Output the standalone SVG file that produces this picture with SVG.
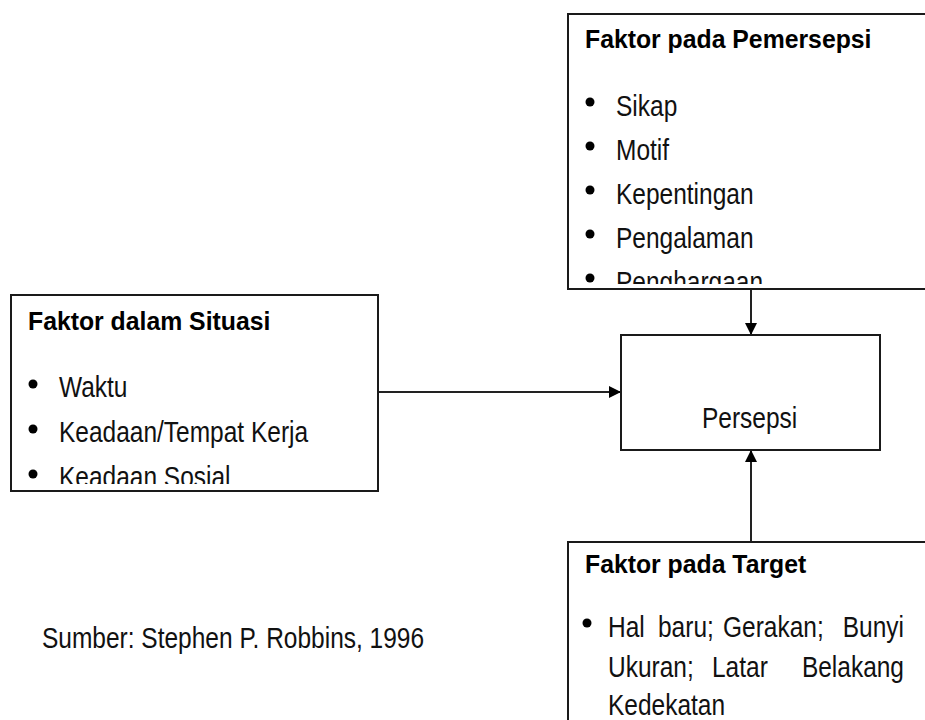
<svg xmlns="http://www.w3.org/2000/svg" width="925" height="720" viewBox="0 0 925 720">
<style>
.box{fill:#fff;stroke:#1a1a1a;stroke-width:2}
.h{font-family:"Liberation Sans",Arial,sans-serif;font-weight:bold;font-size:24.8px;fill:#000}
.t{font-family:"Liberation Sans",Arial,sans-serif;font-size:24.5px;fill:#111}
.b{fill:#000}
.c{stroke:#222;stroke-width:2;fill:none}
</style>
<defs>
<marker id="ah" viewBox="0 0 12 12" refX="12" refY="6" markerWidth="12" markerHeight="12" markerUnits="userSpaceOnUse" orient="auto">
<path d="M0,0 L12,6 L0,12 Z" fill="#000"/>
</marker>
<clipPath id="clipTop"><rect x="569" y="14" width="360" height="270"/></clipPath>
<clipPath id="clipLeft"><rect x="12" y="296" width="365" height="188"/></clipPath>
</defs>
<rect width="925" height="720" fill="#fff"/>
<g id="connectors">
<line class="c" x1="378" y1="392" x2="621" y2="392" marker-end="url(#ah)"/>
<line class="c" x1="751" y1="290" x2="751" y2="335" marker-end="url(#ah)"/>
<line class="c" x1="751" y1="542" x2="751" y2="450" marker-end="url(#ah)"/>
</g>
<g id="pemersepsi">
<rect class="box" x="568" y="14" width="370" height="275"/>
<text class="h" transform="translate(585,48) scale(1,1.05)">Faktor pada Pemersepsi</text>
<g clip-path="url(#clipTop)">
<circle class="b" cx="590" cy="102" r="4.5"/>
<text class="t" transform="translate(616,116) scale(1,1.22)">Sikap</text>
<circle class="b" cx="590" cy="146" r="4.5"/>
<text class="t" transform="translate(616,160) scale(1,1.22)">Motif</text>
<circle class="b" cx="590" cy="190" r="4.5"/>
<text class="t" transform="translate(616,204) scale(1,1.22)">Kepentingan</text>
<circle class="b" cx="590" cy="234" r="4.5"/>
<text class="t" transform="translate(616,248) scale(1,1.22)">Pengalaman</text>
<circle class="b" cx="590" cy="278" r="4.5"/>
<text class="t" transform="translate(616,292) scale(1,1.22)">Penghargaan</text>
</g>
</g>
<g id="situasi">
<rect class="box" x="11" y="295" width="367" height="196"/>
<text class="h" transform="translate(28,330) scale(1,1.05)">Faktor dalam Situasi</text>
<g clip-path="url(#clipLeft)">
<circle class="b" cx="33" cy="384" r="4.5"/>
<text class="t" transform="translate(59,397) scale(1,1.22)">Waktu</text>
<circle class="b" cx="33" cy="429" r="4.5"/>
<text class="t" transform="translate(59,442) scale(1,1.22)">Keadaan/Tempat Kerja</text>
<circle class="b" cx="33" cy="474" r="4.5"/>
<text class="t" transform="translate(59,487) scale(1,1.22)">Keadaan Sosial</text>
</g>
</g>
<g id="persepsi">
<rect class="box" x="621" y="335" width="259" height="115"/>
<text class="t" transform="translate(702,428) scale(1,1.2)">Persepsi</text>
</g>
<g id="target">
<rect class="box" x="568" y="542" width="370" height="190"/>
<text class="h" transform="translate(585,573) scale(1,1.05)">Faktor pada Target</text>
<circle class="b" cx="587" cy="623" r="4.5"/>
<text class="t" transform="translate(608,637) scale(1,1.22)">Hal</text>
<text class="t" transform="translate(658,637) scale(1,1.22)">baru;</text>
<text class="t" transform="translate(723,637) scale(1,1.22)">Gerakan;</text>
<text class="t" text-anchor="end" transform="translate(904,637) scale(1,1.22)">Bunyi</text>
<text class="t" transform="translate(608,677) scale(1,1.22)">Ukuran;</text>
<text class="t" transform="translate(712,677) scale(1,1.22)">Latar</text>
<text class="t" text-anchor="end" transform="translate(904,677) scale(1,1.22)">Belakang</text>
<text class="t" transform="translate(608,715) scale(1,1.22)">Kedekatan</text>
</g>
<text class="t" transform="translate(42,648) scale(1,1.2)">Sumber: Stephen P. Robbins, 1996</text>
</svg>
